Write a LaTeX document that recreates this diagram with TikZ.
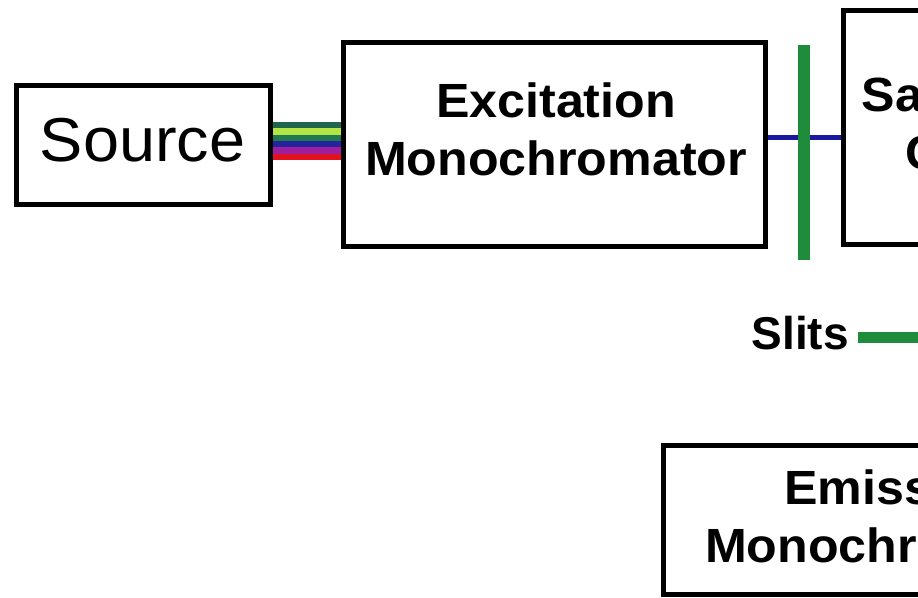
\documentclass[tikz,border=0pt]{standalone}
\usepackage{fontspec}
\setmainfont{Liberation Sans}
\newfontfamily\widefont{Liberation Sans}[FakeStretch=1.045]
\usepackage{xcolor}
\usetikzlibrary{positioning, backgrounds}

\definecolor{slitgreen}{HTML}{1F8C3C}
\definecolor{beamblue}{HTML}{1A1AA0}
\definecolor{bandA}{HTML}{1E6650}
\definecolor{bandB}{HTML}{B2E545}
\definecolor{bandC}{HTML}{217A4E}
\definecolor{bandD}{HTML}{24249E}
\definecolor{bandE}{HTML}{9E1E9E}
\definecolor{bandF}{HTML}{E0121E}

\begin{document}
\begin{tikzpicture}[
    x=1pt, y=-1pt,
    box/.style={draw, rectangle, line width=5pt, fill=white, inner sep=0pt},
    lbl/.style={align=center, inner sep=0pt, font=\widefont\fontsize{48}{58}\selectfont\bfseries},
    beam/.style={line width=5pt, beamblue},
    slitbar/.style={line width=12pt, slitgreen}
]
\useasboundingbox (0,0) rectangle (918,597);
\clip (0,0) rectangle (918,597);
\node[box, minimum width=254pt, minimum height=119pt] (src) at (143.5,145) {};
\node[inner sep=0pt, font=\widefont\fontsize{62}{70}\selectfont] (srctxt) at (142.5,140.5) {Source};
\node[box, minimum width=422pt, minimum height=204pt] (exc) at (554.5,144.5) {};
\node[lbl] (exctxt) at (556,129.8) {Excitation\\Monochromator};
\node[box, minimum width=210pt, minimum height=234pt] (smp) at (948,127.5) {};
\node[lbl] (smptxt) at (951,123.8) {Sample\\Cell};
\node[box, minimum width=469pt, minimum height=149pt] (ems) at (898,520) {};
\node[lbl] (emstxt) at (896,516.8) {Emission\\Monochromator};
\node[inner sep=0pt, anchor=east, font=\fontsize{46}{56}\selectfont\bfseries] (slits) at (849,333.5) {Slits};
\coordinate (slittop) at (804,45);
\coordinate (slitbot) at (804,260);
\begin{scope}[on background layer]
    \foreach \col [count=\i] in {bandA, bandB, bandC, bandD, bandE, bandF}
        \draw[line width=6.6pt, \col] ([yshift={20pt-6.4pt*(\i-1)}]src.east) -- ([yshift={20pt-6.4pt*(\i-1)}]src.east -| exc.west);
    \draw[beam] ([yshift=7pt]exc.east) -- ([yshift=7pt]exc.east -| smp.west);
\end{scope}
\draw[slitbar] (slittop) -- (slitbot);
\draw[line width=11pt, slitgreen] ([xshift=9pt, yshift=-4pt]slits.east) -- ++(120pt,0);
\end{tikzpicture}
\end{document}
